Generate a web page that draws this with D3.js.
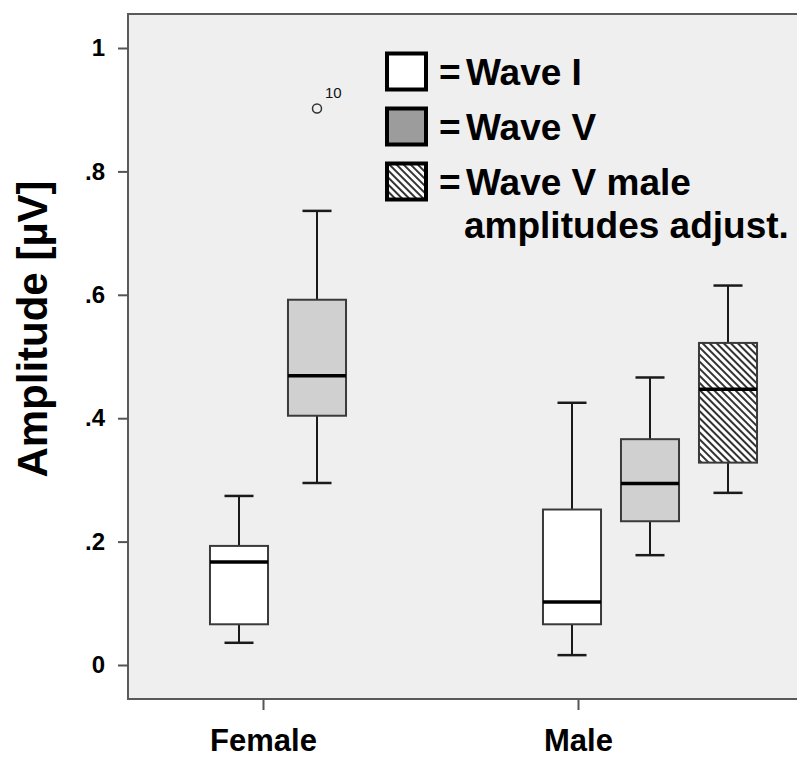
<!DOCTYPE html>
<html>
<head>
<meta charset="utf-8">
<script src="https://cdn.jsdelivr.net/npm/d3@7"></script>
<style>
  html, body { margin: 0; padding: 0; background: #ffffff; }
  svg { display: block; }
  text { font-family: Arial, "Liberation Sans", sans-serif; }
</style>
</head>
<body>
<svg id="chart" width="797" height="758"></svg>
<script>
// Groups on the x axis and the box series within each group
const groups = ["Female", "Male"];
const series = ["Wave I", "Wave V", "Wave V adj"];

// Box summary statistics (amplitude, µV), one entry per drawn box
const boxGroup    = ["Female", "Female", "Male",  "Male",  "Male"];
const boxSeries   = ["Wave I", "Wave V", "Wave I", "Wave V", "Wave V adj"];
const whiskerLow  = [0.036, 0.295, 0.016, 0.178, 0.279];
const q1          = [0.066, 0.404, 0.066, 0.233, 0.328];
const median      = [0.167, 0.469, 0.102, 0.294, 0.447];
const q3          = [0.193, 0.592, 0.252, 0.366, 0.522];
const whiskerHigh = [0.274, 0.736, 0.425, 0.466, 0.615];

// Outlying case
const outlierGroup  = ["Female"];
const outlierSeries = ["Wave V"];
const outlierValue  = [0.902];
const outlierLabel  = ["10"];

// Axis ticks
const yTicks = [0, 0.2, 0.4, 0.6, 0.8, 1];
const yTickLabels = ["0", ".2", ".4", ".6", ".8", "1"];

// Legend entries
const legendLines = [["Wave I"], ["Wave V"], ["Wave V male", "amplitudes adjust."]];

const svg = d3.select("#chart");

// Plot frame
const frame = { left: 128, top: 14, right: 830, bottom: 699 };

const y = d3.scaleLinear().domain([0, 1]).range([665, 48]);
const xGroup = d3.scalePoint().domain(groups).range([317, 650]);
const xSeries = d3.scaleBand().domain(series).range([-117, 117])
  .paddingInner(0.256).paddingOuter(0.128);
const xTick = d3.scalePoint().domain(groups).range([263, 578]);

const fills = { "Wave I": "#ffffff", "Wave V": "#d0d0d0", "Wave V adj": "url(#hatch)" };
const legendFills = ["#ffffff", "#9c9c9c", "url(#hatch)"];

// Diagonal hatch pattern
const defs = svg.append("defs");
const pat = defs.append("pattern")
  .attr("id", "hatch")
  .attr("patternUnits", "userSpaceOnUse")
  .attr("width", 5).attr("height", 5)
  .attr("patternTransform", "rotate(45)");
pat.append("rect").attr("width", 5).attr("height", 5).attr("fill", "#ffffff");
pat.append("rect").attr("width", 5).attr("height", 2).attr("fill", "#333333");

// Background + frame
svg.append("rect")
  .attr("x", frame.left).attr("y", frame.top)
  .attr("width", frame.right - frame.left).attr("height", frame.bottom - frame.top)
  .attr("fill", "#efefef").attr("stroke", "#5a5a5a").attr("stroke-width", 2);

// Y axis
const yAxis = d3.axisLeft(y).tickValues(yTicks).tickSize(10).tickPadding(13)
  .tickFormat((d, i) => yTickLabels[i]);
const gy = svg.append("g").attr("transform", `translate(${frame.left},0)`).call(yAxis);
gy.select(".domain").remove();
gy.selectAll(".tick line").attr("stroke", "#555").attr("stroke-width", 2);
gy.selectAll(".tick text")
  .attr("font-family", "Arial, 'Liberation Sans', sans-serif")
  .attr("font-size", 24).attr("font-weight", "bold").attr("fill", "#000");

// X axis
const xAxis = d3.axisBottom(xTick).tickSize(11).tickPadding(19);
const gx = svg.append("g").attr("transform", `translate(0,${frame.bottom})`).call(xAxis);
gx.select(".domain").remove();
gx.selectAll(".tick line").attr("stroke", "#555").attr("stroke-width", 2);
gx.selectAll(".tick text")
  .attr("font-family", "Arial, 'Liberation Sans', sans-serif")
  .attr("font-size", 31).attr("font-weight", "bold").attr("fill", "#000");

// Y axis title
svg.append("text")
  .attr("transform", "translate(47,329) rotate(-90)")
  .attr("text-anchor", "middle")
  .attr("font-size", 42).attr("font-weight", "bold").attr("fill", "#000")
  .text("Amplitude [µV]");

// Boxes
const boxes = boxGroup.map((g, i) => ({
  cx: xGroup(g) + xSeries(boxSeries[i]) + xSeries.bandwidth() / 2,
  s: boxSeries[i], lo: whiskerLow[i], q1: q1[i], med: median[i], q3: q3[i], hi: whiskerHigh[i]
}));
const bw = xSeries.bandwidth();
const bg = svg.append("g");
boxes.forEach(b => {
  const g = bg.append("g");
  // whiskers
  g.append("line").attr("x1", b.cx).attr("x2", b.cx).attr("y1", y(b.hi)).attr("y2", y(b.q3))
    .attr("stroke", "#1a1a1a").attr("stroke-width", 2);
  g.append("line").attr("x1", b.cx).attr("x2", b.cx).attr("y1", y(b.q1)).attr("y2", y(b.lo))
    .attr("stroke", "#1a1a1a").attr("stroke-width", 2);
  g.append("line").attr("x1", b.cx - bw / 4).attr("x2", b.cx + bw / 4).attr("y1", y(b.hi)).attr("y2", y(b.hi))
    .attr("stroke", "#1a1a1a").attr("stroke-width", 2.5);
  g.append("line").attr("x1", b.cx - bw / 4).attr("x2", b.cx + bw / 4).attr("y1", y(b.lo)).attr("y2", y(b.lo))
    .attr("stroke", "#1a1a1a").attr("stroke-width", 2.5);
  // box
  g.append("rect").attr("x", b.cx - bw / 2).attr("y", y(b.q3))
    .attr("width", bw).attr("height", y(b.q1) - y(b.q3))
    .attr("fill", fills[b.s]).attr("stroke", "#3a3a3a").attr("stroke-width", 2);
  // median
  g.append("line").attr("x1", b.cx - bw / 2).attr("x2", b.cx + bw / 2).attr("y1", y(b.med)).attr("y2", y(b.med))
    .attr("stroke", "#000").attr("stroke-width", 3.5);
});

// Outliers
outlierValue.forEach((v, i) => {
  const cx = xGroup(outlierGroup[i]) + xSeries(outlierSeries[i]) + bw / 2;
  svg.append("circle").attr("cx", cx).attr("cy", y(v)).attr("r", 4.5)
    .attr("fill", "none").attr("stroke", "#333").attr("stroke-width", 1.5);
  svg.append("text").attr("x", cx + 8).attr("y", y(v) - 10)
    .attr("font-size", 15).attr("fill", "#111").text(outlierLabel[i]);
});

// Legend
const lg = svg.append("g");
const rowY = [52, 107, 162];
legendLines.forEach((lines, i) => {
  lg.append("rect").attr("x", 387).attr("y", rowY[i] + 1.5).attr("width", 39).attr("height", 36)
    .attr("fill", legendFills[i]).attr("stroke", "#000").attr("stroke-width", 4);
  lg.append("text").attr("x", 439).attr("y", rowY[i] + 33)
    .attr("font-size", 37).attr("font-weight", "bold").attr("fill", "#000").text("=");
  lines.forEach((t, j) => {
    lg.append("text").attr("x", 466 - (j ? 2 : 0)).attr("y", rowY[i] + 33 + j * 43)
      .attr("font-size", 37).attr("font-weight", "bold").attr("fill", "#000").text(t);
  });
});
</script>
</body>
</html>
